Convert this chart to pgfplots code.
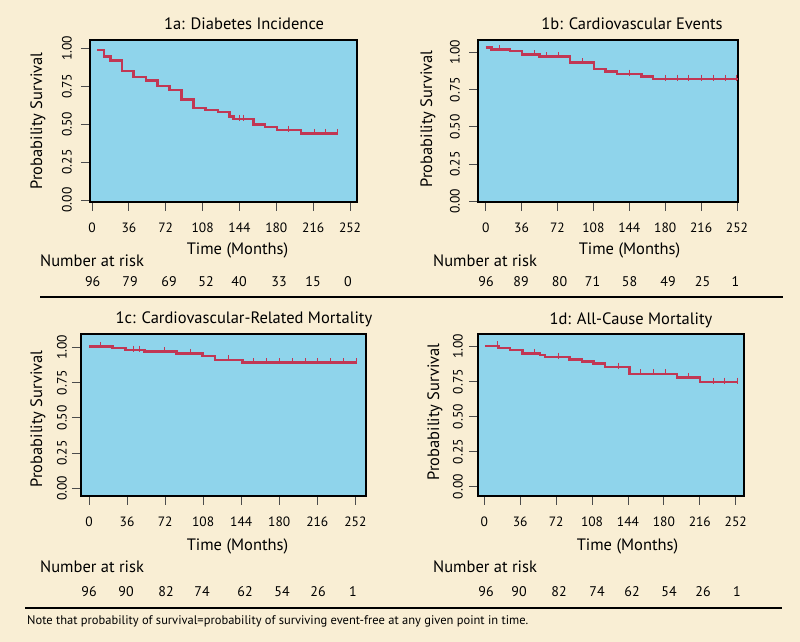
\documentclass[border=0pt]{standalone}
\usepackage{pgfplots}
\pgfplotsset{compat=1.18}
\usepackage{fontspec}
\setmainfont{PT Sans}

\definecolor{paper}{RGB}{249,238,212}
\definecolor{plotbg}{RGB}{143,212,235}
\definecolor{kmred}{RGB}{193,55,84}

\pgfplotsset{
  km/.style={
    anchor=south west, scale only axis, height=162pt,
    axis background/.style={fill=plotbg},
    axis line style={black, line width=1.3pt},
    xtick={0,36,...,252}, ytick={0,0.25,0.5,0.75,1},
    tick align=outside, tick pos=left,
    major tick length=9pt,
    tick style={black!70, line width=0.9pt},
    /pgf/number format/assume math mode=true,
    yticklabel style={rotate=90, anchor=south, inner sep=0pt,
      font=\fontsize{13.5}{13.5}\selectfont,
      /pgf/number format/fixed, /pgf/number format/fixed zerofill,
      /pgf/number format/precision=2},
    xticklabel style={anchor=north, inner sep=0pt, font=\fontsize{13.5}{13.5}\selectfont},
    xticklabel shift=11.5pt,
  },
  surv/.style={const plot, color=kmred, line width=2.5pt, no marks},
  cens/.style={only marks, mark=|, mark size=3pt, color=kmred,
    mark options={line width=1pt, yshift=1.5pt}},
}

\begin{document}
\begin{tikzpicture}
\path[use as bounding box, fill=paper] (0,0) rectangle (800pt,642pt);

% 1a
\begin{axis}[km, at={(90pt,440pt)}, width=267pt,
  xmin=-1.95, xmax=258.8, ymin=-0.013, ymax=1.055, yticklabel shift=9pt]
\addplot[surv] coordinates {
  (5.2,0.99) (11.7,0.945) (18,0.92) (29.2,0.85) (40.6,0.81) (52.5,0.787)
  (64,0.751) (75.7,0.726) (87.6,0.662) (99.2,0.608) (111,0.595) (123,0.58)
  (134.4,0.55) (138,0.533) (157.5,0.497) (169,0.48) (180.7,0.46) (204,0.439)
  (240,0.439)};
\addplot[cens] coordinates {
  (144,0.533) (148,0.533) (192,0.46) (217,0.439) (228,0.439) (240,0.439)};
\end{axis}

% 1b
\begin{axis}[km, at={(478pt,440pt)}, width=260pt,
  xmin=-7.7, xmax=253, ymin=-0.005, ymax=1.083, yticklabel shift=9pt]
\addplot[surv] coordinates {
  (0,1.031) (6,1.019) (24.5,1.01) (36.5,0.984) (54.2,0.971) (84.3,0.931)
  (108.4,0.888) (120.2,0.872) (131.8,0.854) (156.3,0.837) (168,0.821)
  (253,0.821)};
\addplot[cens] coordinates {
  (13.4,1.019) (49,0.984) (61,0.971) (72.6,0.971) (96.7,0.931) (144.6,0.854)
  (180.4,0.821) (192,0.821) (203.8,0.821) (216.5,0.821) (228.2,0.821)
  (240,0.821) (251.7,0.821)};
\end{axis}

% 1c
\begin{axis}[km, at={(81pt,146pt)}, width=285pt,
  xmin=-7.6, xmax=262.1, ymin=-0.055, ymax=1.095, yticklabel shift=5pt]
\addplot[surv] coordinates {
  (0,1.008) (22.4,0.995) (34.7,0.981) (52.4,0.969) (83,0.957) (107.3,0.94)
  (119.3,0.912) (145.2,0.892) (252.8,0.892)};
\addplot[cens] coordinates {
  (11,1.008) (42,0.981) (47.6,0.981) (71.3,0.969) (95.6,0.957) (132,0.912)
  (155.6,0.892) (168.3,0.892) (180.2,0.892) (192.5,0.892) (204.5,0.892)
  (216.6,0.892) (228.9,0.892) (240.8,0.892) (252.8,0.892)};
\end{axis}

% 1d
\begin{axis}[km, at={(478pt,146pt)}, width=266pt,
  xmin=-6.3, xmax=260.3, ymin=-0.066, ymax=1.089, yticklabel shift=6pt]
\addplot[surv] coordinates {
  (1,1.004) (14.3,0.99) (26,0.974) (38.3,0.95) (56,0.938) (61,0.924)
  (85.3,0.907) (97.7,0.893) (109.3,0.879) (121,0.852) (145.5,0.804)
  (193.3,0.779) (216,0.745) (253.3,0.745)};
\addplot[cens] coordinates {
  (13,1.004) (50,0.95) (74.3,0.924) (134.3,0.852) (157,0.804) (169.3,0.804)
  (181.7,0.804) (205,0.779) (229.3,0.745) (241,0.745) (253.3,0.745)};
\end{axis}

% titles
\begin{scope}[font=\fontsize{16.5}{16.5}\selectfont]
\node[anchor=base] at (244pt,612pt) {1a: Diabetes Incidence};
\node[anchor=base] at (632pt,612pt) {1b: Cardiovascular Events};
\node[anchor=base] at (244pt,318pt) {1c: Cardiovascular-Related Mortality};
\node[anchor=base] at (631pt,317pt) {1d: All-Cause Mortality};
% x labels
\node[anchor=base] at (237.5pt,387pt) {Time (Months)};
\node[anchor=base] at (629.5pt,387pt) {Time (Months)};
\node[anchor=base] at (237.5pt,91.5pt) {Time (Months)};
\node[anchor=base] at (627.5pt,91.5pt) {Time (Months)};
% y labels
\node[rotate=90] at (38pt,521pt) {Probability Survival};
\node[rotate=90] at (428pt,523pt) {Probability Survival};
\node[rotate=90] at (38pt,223pt) {Probability Survival};
\node[rotate=90] at (435pt,230pt) {Probability Survival};
% number at risk
\node[anchor=base west, inner sep=0pt] at (40pt,375pt) {Number at risk};
\node[anchor=base west, inner sep=0pt] at (433pt,375pt) {Number at risk};
\node[anchor=base west, inner sep=0pt] at (40pt,69pt) {Number at risk};
\node[anchor=base west, inner sep=0pt] at (433pt,69pt) {Number at risk};
\end{scope}

\begin{scope}[font=\fontsize{14}{14}\selectfont]
\foreach \x/\n in {92.7/96,130/79,169/69,206/52,239/40,279/33,313/15,348/0}
  \node[anchor=base] at (\x pt,355pt) {\n};
\foreach \x/\n in {486/96,521/89,559.5/80,592.5/71,629.5/58,668/49,702.5/25,735.5/1}
  \node[anchor=base] at (\x pt,355pt) {\n};
\foreach \x/\n in {89/96,126/90,166/82,202/74,245/62,282/54,318/26,353/1}
  \node[anchor=base] at (\x pt,45pt) {\n};
\foreach \x/\n in {486/96,519/90,559/82,597/74,632/62,669/54,703/26,737/1}
  \node[anchor=base] at (\x pt,45pt) {\n};
\end{scope}

% rules
\draw[black, line width=1.5pt] (40pt,345pt) -- (783pt,345pt);
\draw[black, line width=1.5pt] (25pt,34pt) -- (782pt,34pt);

\node[anchor=base west, inner sep=0pt, font=\fontsize{12.5}{12.5}\selectfont]
  at (27pt,17pt) {Note that probability of survival=probability of surviving event-free at any given point in time.};
\end{tikzpicture}
\end{document}
